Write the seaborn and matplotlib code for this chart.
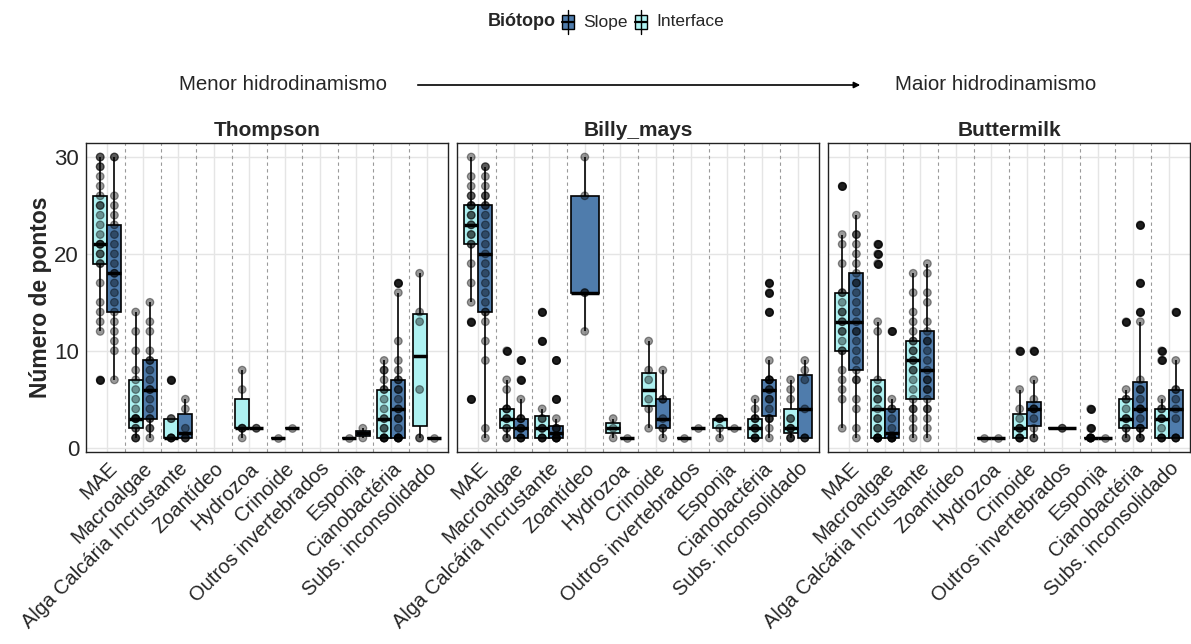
import numpy as np
import pandas as pd
import matplotlib
matplotlib.use("Agg")
import matplotlib.pyplot as plt
import seaborn as sns
from matplotlib.patches import Rectangle, FancyArrowPatch
from matplotlib.lines import Line2D

# ---------------- data ----------------
categories = ["MAE", "Macroalgae", "Alga Calcária Incrustante", "Zoantídeo",
              "Hydrozoa", "Crinoide", "Outros invertebrados", "Esponja",
              "Cianobactéria", "Subs. inconsolidado"]
sites = ["Thompson", "Billy_mays", "Buttermilk"]
biotopes = ["Interface", "Slope"]          # dodge order (left, right)
legend_order = ["Slope", "Interface"]
colors = {"Slope": "#4F7CAC", "Interface": "#AEF2F2"}

thompson_interface = [
    [7, 12, 13, 14, 15, 17, 19, 19, 20, 20, 21, 21, 21, 22, 23, 24, 25, 25, 26, 27, 28, 29, 29, 30, 30],
    [1, 1, 1, 2, 2, 3, 3, 3, 3, 4, 5, 6, 7, 8, 10, 12, 14],
    [1, 1, 1, 1, 3, 3, 7],
    [],
    [1, 2, 2, 2, 6, 8],
    [1],
    [],
    [1],
    [1, 1, 1, 1, 1, 2, 2, 3, 3, 4, 5, 6, 6, 7, 8, 8, 9],
    [1, 1, 6, 13, 14, 18],
]
thompson_slope = [
    [7, 10, 11, 12, 13, 14, 15, 16, 17, 18, 18, 19, 20, 21, 22, 23, 24, 25, 26, 30, 30],
    [1, 2, 2, 3, 3, 4, 5, 6, 6, 7, 8, 9, 9, 10, 12, 13, 15],
    [1, 1, 1, 2, 4, 5],
    [],
    [2, 2],
    [2],
    [],
    [1, 2],
    [1, 1, 1, 1, 1, 1, 2, 3, 3, 4, 4, 5, 6, 6, 7, 7, 8, 9, 11, 16, 17],
    [1],
]
billy_interface = [
    [5, 13, 15, 17, 19, 21, 21, 22, 22, 23, 23, 24, 24, 25, 25, 25, 26, 26, 27, 28, 30],
    [1, 1, 2, 2, 3, 3, 3, 4, 4, 4, 6, 7, 10],
    [1, 1, 1, 1, 2, 2, 2, 3, 3, 4, 11, 14],
    [],
    [1, 2, 3],
    [2, 4, 5, 7, 8, 11],
    [1],
    [1, 2, 3, 3, 3],
    [1, 1, 1, 1, 2, 2, 2, 3, 3, 3, 4, 5],
    [1, 1, 1, 2, 2, 2, 3, 3, 5, 6, 7],
]
billy_slope = [
    [1, 2, 9, 11, 13, 14, 14, 15, 16, 17, 18, 19, 20, 21, 22, 23, 24, 25, 25, 26, 26, 27, 28, 29, 29],
    [1, 1, 1, 1, 2, 2, 2, 3, 3, 3, 5, 7, 9],
    [1, 1, 1, 1, 1, 1, 2, 2, 2, 3, 5, 9],
    [12, 16, 16, 26, 30],
    [1],
    [1, 2, 2, 3, 5, 5, 8],
    [2],
    [2],
    [1, 2, 3, 3, 3, 4, 5, 5, 6, 6, 7, 7, 7, 7, 9, 14, 16, 17],
    [1, 1, 1, 4, 7, 8, 9],
]
buttermilk_interface = [
    [2, 5, 6, 7, 8, 10, 10, 11, 12, 12, 13, 13, 14, 14, 15, 16, 16, 19, 21, 22, 27],
    [1, 1, 1, 1, 1, 1, 2, 2, 3, 3, 4, 5, 5, 6, 6, 7, 12, 13, 19, 20, 21],
    [1, 2, 3, 4, 4, 5, 6, 7, 8, 8, 9, 9, 10, 10, 11, 11, 12, 13, 14, 16, 18],
    [],
    [1],
    [1, 1, 1, 1, 2, 2, 2, 3, 4, 6, 10],
    [],
    [1, 1, 1, 1, 1, 1, 1, 2, 4],
    [1, 1, 2, 2, 3, 3, 3, 4, 5, 5, 6, 13],
    [1, 1, 1, 1, 2, 3, 3, 3, 4, 4, 5, 9, 10],
]
buttermilk_slope = [
    [1, 2, 4, 5, 7, 7, 8, 9, 10, 11, 12, 12, 13, 14, 15, 16, 17, 17, 18, 19, 20, 21, 22, 22, 24],
    [1, 1, 1, 1, 1, 1, 2, 3, 4, 4, 5, 12],
    [1, 2, 3, 4, 4, 5, 6, 6, 7, 7, 8, 9, 10, 11, 11, 12, 13, 15, 16, 18, 19],
    [],
    [1],
    [1, 1, 2, 3, 4, 4, 4, 5, 7, 10],
    [2, 2],
    [1],
    [1, 1, 1, 2, 2, 2, 3, 4, 4, 4, 5, 6, 6, 7, 13, 14, 17, 23],
    [1, 1, 1, 1, 3, 4, 5, 6, 6, 9, 14],
]

site_data = {
    "Thompson": {"Interface": thompson_interface, "Slope": thompson_slope},
    "Billy_mays": {"Interface": billy_interface, "Slope": billy_slope},
    "Buttermilk": {"Interface": buttermilk_interface, "Slope": buttermilk_slope},
}

records = []
for site in sites:
    for bio in biotopes:
        for cat, vals in zip(categories, site_data[site][bio]):
            for v in vals:
                records.append((site, cat, bio, v))
df = pd.DataFrame(records, columns=["site", "cat", "bio", "val"])

# ---------------- style ----------------
sns.set_theme(style="white")
plt.rcParams["font.family"] = ["Liberation Sans", "DejaVu Sans"]

W, H = 1191, 644
fig = plt.figure(figsize=(W / 100, H / 100), dpi=100)

def fx(px):
    return px / W

def fy(py):
    return 1 - py / H

lefts = [86, 457, 828]
panel_w, top, bottom = 362, 143, 452

for i, site in enumerate(sites):
    ax = fig.add_axes([fx(lefts[i]), fy(bottom), panel_w / W, (bottom - top) / H])
    d = df[df.site == site]
    n_hue = d.groupby("cat")["bio"].nunique()
    single = list(n_hue[n_hue == 1].index)
    dd = d[~d.cat.isin(single)]
    ds = d[d.cat.isin(single)]

    box_kw = dict(x="cat", y="val", hue="bio", order=categories, hue_order=biotopes,
                  palette=colors, saturation=1, width=0.8, linewidth=1.2, linecolor="black",
                  showcaps=False,
                  flierprops=dict(marker="o", markerfacecolor="black",
                                  markeredgecolor="black", markersize=5.5, alpha=0.8),
                  medianprops=dict(linewidth=2.5, color="black"),
                  legend=False, ax=ax)
    if len(dd):
        sns.boxplot(data=dd, dodge=True, gap=0, **box_kw)
    if len(ds):
        sns.boxplot(data=ds, dodge=False, **box_kw)

    strip_kw = dict(x="cat", y="val", hue="bio", order=categories, hue_order=biotopes,
                    palette={"Interface": "black", "Slope": "black"}, jitter=False,
                    size=5.5, alpha=0.4, linewidth=0.9, edgecolor="black",
                    legend=False, ax=ax, zorder=4)
    if len(dd):
        sns.stripplot(data=dd, dodge=True, **strip_kw)
    if len(ds):
        sns.stripplot(data=ds, dodge=False, **strip_kw)

    # grid and separators
    ax.set_axisbelow(True)
    ax.grid(True, color="#E5E5E5", linewidth=1.0)
    for k in range(len(categories) - 1):
        ax.axvline(k + 0.5, color="#9A9A9A", linestyle=(0, (3, 3)), linewidth=0.8, zorder=0.8)

    ax.set_xlim(-0.6, len(categories) - 0.4)
    ax.set_ylim(-0.45, 31.45)
    ax.set_yticks([0, 10, 20, 30])
    ax.set_xticks(range(len(categories)))
    ax.set_xticklabels(categories, rotation=45, ha="right", rotation_mode="anchor",
                       fontsize=14.5)
    ax.tick_params(axis="both", length=3, width=0.8, color="#333333", pad=2)
    ax.tick_params(axis="y", labelsize=16)
    for sp in ax.spines.values():
        sp.set_color("#222222")
        sp.set_linewidth(1.0)
    ax.set_xlabel("")
    if i == 0:
        ax.set_ylabel("Número de pontos", fontsize=16.5, fontweight="bold")
        ax.yaxis.set_label_coords(-0.095, 0.5)
    else:
        ax.set_ylabel("")
        ax.tick_params(axis="y", labelleft=False)
    ax.set_title(site, fontsize=15, fontweight="bold", pad=5)

# ---------------- legend (top) ----------------
ly = 22
fig.text(fx(488), fy(ly), "Biótopo", fontsize=13, fontweight="bold", va="center", ha="left")
gx = {"Slope": 562, "Interface": 635}
tx = {"Slope": 583, "Interface": 656}
for bio in legend_order:
    x0 = gx[bio]
    fig.add_artist(Line2D([fx(x0 + 6), fx(x0 + 6)], [fy(ly + 12), fy(ly - 12)],
                          color="black", lw=1.0, transform=fig.transFigure))
    fig.add_artist(Rectangle((fx(x0), fy(ly + 7)), 12 / W, 14 / H, facecolor=colors[bio],
                             edgecolor="black", lw=1.0, transform=fig.transFigure))
    fig.add_artist(Line2D([fx(x0), fx(x0 + 12)], [fy(ly), fy(ly)], color="black", lw=1.6,
                          transform=fig.transFigure))
    fig.text(fx(tx[bio]), fy(ly), bio, fontsize=12.5, va="center", ha="left")

# ---------------- hydrodynamics arrow ----------------
ay = 85
fig.text(fx(283), fy(ay), "Menor hidrodinamismo", fontsize=14.8, ha="center", va="center")
fig.text(fx(996), fy(ay), "Maior hidrodinamismo", fontsize=14.8, ha="center", va="center")
fig.add_artist(FancyArrowPatch((fx(415), fy(ay)), (fx(863), fy(ay)), transform=fig.transFigure,
                               arrowstyle="-|>", mutation_scale=9, lw=1.2, color="black"))

fig.savefig("out.png", dpi=100)
